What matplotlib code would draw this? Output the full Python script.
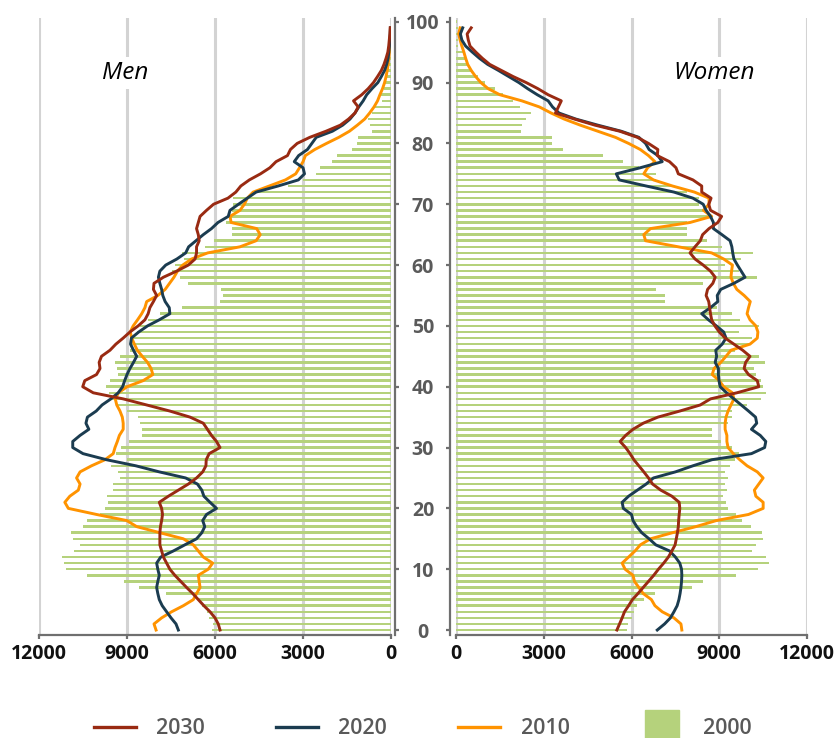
import numpy as np
import matplotlib

matplotlib.use("Agg")
import matplotlib.pyplot as plt
from matplotlib.lines import Line2D

plt.rcParams["font.family"] = ["Open Sans", "DejaVu Sans"]

# ages 0..100 for the 2000 bars, 0..99 for the projected lines
ages_bar = np.arange(101)
ages_line = np.arange(100)

men_2000 = [6120, 6080, 6200, 6260, 6460, 6540, 7680, 8590, 9090, 10380,
            11080, 11140, 11210, 10810, 10610, 10830, 10920, 10490, 10380, 9920,
            9750, 9640, 9670, 9490, 9470, 9240, 9300, 9560, 9010, 9380,
            9190, 8930, 8480, 8480, 8560, 8620, 9010, 9330, 9530, 9610,
            9700, 9580, 9300, 9330, 9410, 9240, 8900, 8840, 8790, 8670,
            8560, 8280, 7880, 7140, 5830, 5740, 5800, 6910, 7200, 7450,
            7350, 7050, 7140, 6350, 6040, 5420, 5430, 5610, 5490, 5430,
            5380, 5380, 4700, 3500, 3010, 2560, 2420, 2020, 1830, 1340,
            1170, 1110, 660, 720, 770, 660, 600, 300, 380, 250,
            200, 150, 120, 100, 80, 60, 40, 30, 20, 15, 10]

women_2000 = [5840, 5890, 6010, 6100, 6180, 6440, 6810, 8060, 8440, 9580,
              10340, 10700, 10590, 10110, 10250, 10510, 10450, 10080, 9790, 9570,
              9310, 9220, 9140, 9260, 9180, 9310, 9200, 9370, 9540, 9680,
              9430, 9060, 8740, 8740, 9310, 9430, 9430, 9960, 10410, 10590,
              10480, 10430, 10250, 10200, 10550, 10360, 9540, 10060, 10110, 9680,
              10360, 9710, 9430, 8920, 7150, 7150, 6830, 8430, 10280, 9660,
              9200, 9740, 10140, 9090, 8570, 7890, 7890, 7890, 8690, 8520,
              8290, 8290, 7890, 7430, 6840, 6840, 6240, 5720, 5040, 3670,
              3280, 3280, 2210, 2260, 2390, 2550, 2190, 1960, 1600, 1330,
              990, 760, 530, 380, 300, 250, 80, 70, 70, 70, 50]

men_2030 = [5830, 5890, 6000, 6170, 6380, 6570, 6760, 6970, 7170, 7370,
            7540, 7650, 7760, 7820, 7880, 7880, 7880, 7860, 7820, 7790,
            7820, 7900, 7590, 7250, 6910, 6630, 6420, 6310, 6300, 6200,
            5830, 5950, 6120, 6260, 6400, 6850, 7540, 8330, 9130, 10150,
            10510, 10440, 10040, 9920, 9950, 9870, 9580, 9380, 9130, 8900,
            8620, 8390, 8280, 8220, 8100, 7990, 8100, 8080, 7760, 7310,
            6910, 6680, 6630, 6630, 6540, 6570, 6630, 6570, 6510, 6290,
            6050, 5560, 5290, 5120, 4830, 4450, 4130, 3920, 3530, 3430,
            3200, 2770, 2220, 1730, 1450, 1230, 1120, 1280, 1000, 780,
            600, 460, 330, 240, 170, 110, 80, 60, 40, 30]

men_2020 = [7250, 7330, 7500, 7650, 7800, 7900, 7950, 7990, 7950, 7900,
            7950, 7990, 7850, 7420, 7030, 6630, 6450, 6350, 6420, 6290,
            5950, 6170, 6380, 6450, 6600, 7000, 7900, 8700, 9700, 10500,
            10850, 10850, 10600, 10300, 10400, 10350, 10050, 9850, 9550, 9300,
            9150, 9080, 9000, 8900, 8780, 8670, 8780, 8880, 8850, 8600,
            8300, 7900, 7540, 7560, 7700, 7780, 7820, 7880, 7930, 7880,
            7680, 7300, 7000, 6900, 6650, 6400, 6120, 5900, 5550, 5490,
            5200, 4900, 4600, 3850, 3160, 2950, 3000, 3300, 3150, 2850,
            2700, 2550, 2000, 1650, 1400, 1230, 1100, 950, 830, 650,
            450, 330, 220, 150, 100, 75, 55, 40, 30, 20]

men_2010 = [8010, 8080, 7820, 7480, 7080, 6740, 6630, 6510, 6540, 6570,
            6230, 6080, 6400, 6570, 6740, 7080, 7880, 8670, 9010, 10040,
            11000, 11120, 10950, 10660, 10600, 10720, 10600, 10210, 9750, 9470,
            9410, 9330, 9260, 9130, 9130, 9160, 9240, 9350, 9400, 9290,
            9000, 8450, 8120, 8180, 8300, 8480, 8650, 8750, 8840, 8890,
            8790, 8640, 8500, 8390, 8330, 7950, 7700, 7550, 7400, 7280,
            7100, 6800, 6250, 5150, 4600, 4460, 4580, 5450, 5490, 5150,
            5000, 4900, 4700, 4150, 3600, 3250, 3120, 3000, 2920, 2600,
            2200, 1780, 1420, 1150, 900, 730, 580, 460, 380, 290,
            220, 170, 130, 100, 75, 55, 40, 30, 20, 10]

women_2030 = [5500, 5590, 5680, 5760, 5900, 6030, 6220, 6400, 6580, 6760,
              6920, 7100, 7260, 7380, 7490, 7530, 7570, 7600, 7610, 7630,
              7650, 7630, 7380, 7000, 6720, 6580, 6420, 6250, 6080, 5950,
              5800, 5610, 5800, 6050, 6400, 6900, 7650, 8350, 8700, 9600,
              10350, 10300, 10000, 9850, 9900, 10050, 9800, 9500, 9200, 9000,
              8850, 8740, 8700, 8670, 8640, 8550, 8600, 8780, 8860, 8700,
              8450, 8170, 8000, 8170, 8350, 8430, 8650, 8950, 9080, 8700,
              8640, 8720, 8400, 8400, 8100, 7600, 7520, 7300, 6880, 6900,
              6580, 6200, 5600, 4750, 4050, 3400, 3500, 3600, 3150, 2800,
              2400, 1950, 1550, 1150, 900, 680, 480, 420, 380, 520]

women_2020 = [6880, 7130, 7330, 7450, 7560, 7620, 7660, 7690, 7710, 7720,
              7710, 7650, 7500, 7300, 6830, 6600, 6350, 6180, 6050, 6000,
              5720, 5680, 5900, 6200, 6500, 6750, 7500, 8100, 8750, 10100,
              10550, 10590, 10400, 10100, 10280, 10240, 10000, 9750, 9500, 9250,
              9030, 8990, 8970, 8970, 8860, 8910, 8880, 9100, 9230, 9150,
              8900, 8630, 8400, 8700, 8950, 8930, 9050, 9500, 9880, 9750,
              9620, 9500, 9460, 9430, 9370, 9090, 8800, 8800, 8700, 8550,
              8450, 8100, 7450, 6500, 5580, 5480, 6300, 7050, 6900, 6600,
              6480, 6250, 5650, 4850, 4100, 3520, 3300, 3150, 2780, 2450,
              2150, 1800, 1450, 1080, 800, 560, 330, 200, 150, 230]

women_2010 = [7720, 7690, 7450, 7050, 6800, 6680, 6400, 6250, 6100, 6050,
              5780, 5680, 5900, 6120, 6300, 6650, 7400, 8200, 8900, 10000,
              10500, 10500, 10250, 10200, 10350, 10500, 10300, 9950, 9700, 9480,
              9300, 9260, 9260, 9200, 9200, 9230, 9300, 9400, 9500, 9450,
              9150, 9000, 8760, 8820, 9050, 9230, 9400, 10050, 10300, 10320,
              10250, 10050, 9950, 10000, 10060, 9850, 9600, 9480, 9400, 9420,
              9450, 9150, 8740, 7600, 6480, 6420, 6650, 8000, 8740, 8460,
              8650, 8650, 8150, 7400, 6750, 6420, 6550, 6800, 6580, 6300,
              5900, 5450, 4850, 4250, 3700, 3250, 2850, 2250, 1500, 1100,
              850, 670, 520, 400, 330, 270, 200, 140, 90, 140]

x_ticks = [0, 3000, 6000, 9000, 12000]
age_ticks = list(range(0, 101, 10))

c2030 = "#992a12"
c2020 = "#1b3c50"
c2010 = "#ff9300"
c2000 = "#b5d27c"
grid_c = "#d3d3d3"
spine_c = "#6f6f6f"

fig = plt.figure(figsize=(8.37, 7.38), dpi=100)
ax_m = fig.add_axes([0.0466, 0.1402, 0.4206, 0.8360])
ax_w = fig.add_axes([0.5448, 0.1402, 0.4194, 0.8360])

panels = [
    (ax_m, men_2000, men_2030, men_2020, men_2010),
    (ax_w, women_2000, women_2030, women_2020, women_2010),
]
for ax, v2000, v2030, v2020, v2010 in panels:
    ax.barh(ages_bar, v2000, height=0.42, color=c2000, zorder=2)
    ax.plot(v2010, ages_line, color=c2010, lw=2.1, zorder=3, solid_joinstyle="round")
    ax.plot(v2020, ages_line, color=c2020, lw=2.1, zorder=4, solid_joinstyle="round")
    ax.plot(v2030, ages_line, color=c2030, lw=2.1, zorder=5, solid_joinstyle="round")
    ax.set_ylim(-0.74, 100.69)
    ax.set_xticks(x_ticks)
    ax.set_xticklabels([str(t) for t in x_ticks], fontsize=14, fontweight="bold", color="#111111")
    ax.set_yticks(age_ticks)
    ax.grid(axis="x", color=grid_c, lw=2.2, zorder=0)
    ax.set_axisbelow(True)
    ax.spines["top"].set_visible(False)
    ax.spines["bottom"].set_color(spine_c)
    ax.spines["bottom"].set_linewidth(1.6)
    ax.tick_params(axis="x", direction="out", length=3, width=1.6, color=spine_c, pad=4)
    ax.tick_params(axis="y", direction="out", length=3, width=1.6, color=spine_c)

ax_m.set_xlim(12000, 0)
ax_w.set_xlim(0, 12000)

ax_m.spines["left"].set_visible(False)
ax_m.spines["right"].set_position(("outward", 3))
ax_m.spines["right"].set_color(spine_c)
ax_m.spines["right"].set_linewidth(1.6)
ax_m.yaxis.tick_right()
ax_m.set_yticklabels([str(a) for a in age_ticks], fontsize=14, fontweight="bold",
                     color="#5a5a5a", ha="center")
ax_m.tick_params(axis="y", pad=17)

ax_w.spines["right"].set_visible(False)
ax_w.spines["left"].set_position(("outward", 4.5))
ax_w.spines["left"].set_color(spine_c)
ax_w.spines["left"].set_linewidth(1.6)
ax_w.set_yticklabels([])

box = dict(facecolor="white", edgecolor="none", pad=3)
ax_m.text(9070, 91.6, "Men", fontsize=17.5, style="italic", ha="center", va="center",
          bbox=box, zorder=6)
ax_w.text(8820, 91.6, "Women", fontsize=17.5, style="italic", ha="center", va="center",
          bbox=box, zorder=6)

handles = [
    Line2D([], [], color=c2030, lw=2.4),
    Line2D([], [], color=c2020, lw=2.4),
    Line2D([], [], color=c2010, lw=2.4),
    Line2D([], [], color=c2000, marker="s", markersize=24, linestyle="none"),
]
fig.legend(handles, ["2030", "2020", "2010", "2000"], loc="center", ncol=4,
           bbox_to_anchor=(0.505, 0.0125), frameon=False,
           prop={"size": 15.5, "weight": "semibold"},
           labelcolor="#595959", handlelength=1.95, handletextpad=0.95,
           columnspacing=3.3, borderpad=0.1)

fig.savefig("out.png", dpi=100)
plt.close(fig)
